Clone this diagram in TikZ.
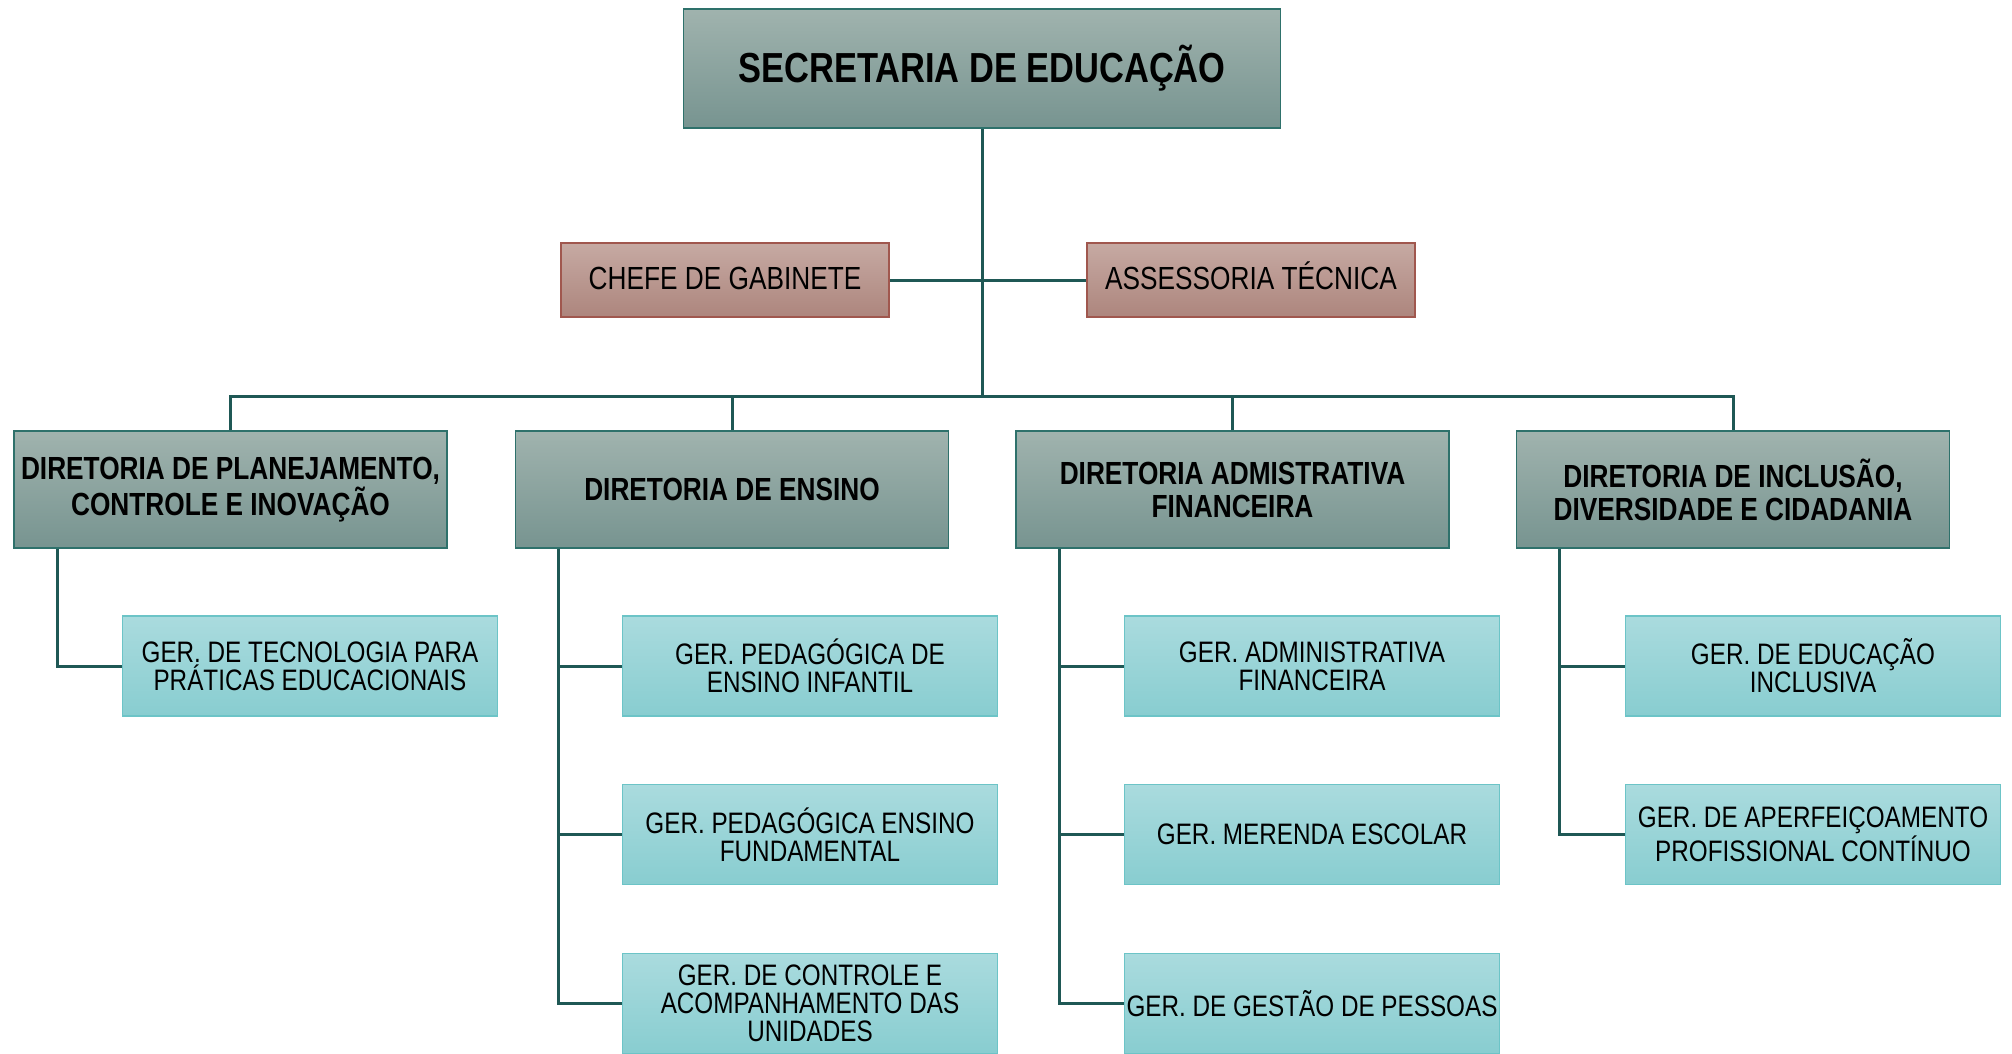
\documentclass[tikz,border=0pt]{standalone}
\usepackage{fontspec}
\setmainfont[FakeStretch=0.82]{Liberation Sans}
\usepackage{tikz}
\usetikzlibrary{positioning, calc, shadings}

\definecolor{lineteal}{HTML}{1F5855}
\definecolor{dirtop}{HTML}{A0B3AE}
\definecolor{dirbot}{HTML}{779490}
\definecolor{dirline}{HTML}{2E716B}
\definecolor{redtop}{HTML}{C6AAA3}
\definecolor{redbot}{HTML}{AD857D}
\definecolor{redline}{HTML}{A0574E}
\definecolor{gertop}{HTML}{AADBDE}
\definecolor{gerbot}{HTML}{88CDD0}
\definecolor{gerline}{HTML}{6CC4C7}

\tikzset{
  topbox/.style={draw=dirline, line width=0.7pt, top color=dirtop, bottom color=dirbot,
    minimum width=298.5pt, minimum height=59.5pt, align=center,
    font=\fontsize{21}{24}\selectfont\bfseries},
  dirbox/.style={draw=dirline, line width=0.7pt, top color=dirtop, bottom color=dirbot,
    minimum width=216.5pt, minimum height=58.5pt, align=center, inner sep=0pt,
    font=\fontsize{16}{16.5}\selectfont\bfseries},
  staffbox/.style={draw=redline, line width=0.7pt, top color=redtop, bottom color=redbot,
    minimum width=164pt, minimum height=37pt, align=center, text height=11.5pt, text depth=2.5pt,
    font=\fontsize{16}{17}\selectfont},
  gerbox/.style={draw=gerline, line width=0.7pt, top color=gertop, bottom color=gerbot,
    minimum width=187.5pt, minimum height=50pt, align=center, inner sep=0pt,
    font=\fontsize{14.8}{14}\selectfont},
  conn/.style={draw=lineteal, line width=1.5pt}
}

\begin{document}
\begin{tikzpicture}[x=0.5pt, y=-0.5pt]
\useasboundingbox (0,0) rectangle (2012,1054);

% top and staff
\node[topbox] (sec) at (982,68.5) {SECRETARIA DE EDUCAÇÃO};
\node[staffbox] (chefe) at (725,280) {CHEFE DE GABINETE};
\node[staffbox] (assess) at (1251,280) {ASSESSORIA TÉCNICA};
\coordinate (bus) at (982,396);

% diretorias
\node[dirbox] (dplan) at (230.5,489.5) {DIRETORIA DE PLANEJAMENTO,\\CONTROLE E INOVAÇÃO};
\node[dirbox] (densino) at (732,489.5) {DIRETORIA DE ENSINO};
\node[dirbox] (dadm) at (1232.5,489.5) {DIRETORIA ADMISTRATIVA\\FINANCEIRA};
\node[dirbox] (dincl) at (1733,489.5) {DIRETORIA DE INCLUSÃO,\\DIVERSIDADE E CIDADANIA};

% gerencias
\node[gerbox] (gtec) at (310,666) {GER. DE TECNOLOGIA PARA\\PRÁTICAS EDUCACIONAIS};
\node[gerbox] (ginf) at (810,666) {GER. PEDAGÓGICA DE\\ENSINO INFANTIL};
\node[gerbox] (gfund) at (810,834.5) {GER. PEDAGÓGICA ENSINO\\FUNDAMENTAL};
\node[gerbox] (gctrl) at (810,1003.5) {GER. DE CONTROLE E\\ACOMPANHAMENTO DAS\\UNIDADES};
\node[gerbox] (gadm) at (1312,666) {GER. ADMINISTRATIVA\\FINANCEIRA};
\node[gerbox] (gmer) at (1312,834.5) {GER. MERENDA ESCOLAR};
\node[gerbox] (gpes) at (1312,1003.5) {GER. DE GESTÃO DE PESSOAS};
\node[gerbox] (gincl) at (1813,666) {GER. DE EDUCAÇÃO\\INCLUSIVA};
\node[gerbox] (gaperf) at (1813,834.5) {GER. DE APERFEIÇOAMENTO\\PROFISSIONAL CONTÍNUO};

% connectors
\draw[conn] (sec.south) -- (bus);
\draw[conn] (chefe.east) -- (assess.west);
\draw[conn] (dplan.north) |- (bus) -| (dincl.north);
\draw[conn] (densino.north) -- (densino.north |- bus);
\draw[conn] (dadm.north) -- (dadm.north |- bus);

\draw[conn] ([xshift=22pt]dplan.south west) |- (gtec.west);
\foreach \g in {ginf,gfund,gctrl}
  \draw[conn] ([xshift=22pt]densino.south west) |- (\g.west);
\foreach \g in {gadm,gmer,gpes}
  \draw[conn] ([xshift=22pt]dadm.south west) |- (\g.west);
\foreach \g in {gincl,gaperf}
  \draw[conn] ([xshift=22pt]dincl.south west) |- (\g.west);
\end{tikzpicture}
\end{document}
